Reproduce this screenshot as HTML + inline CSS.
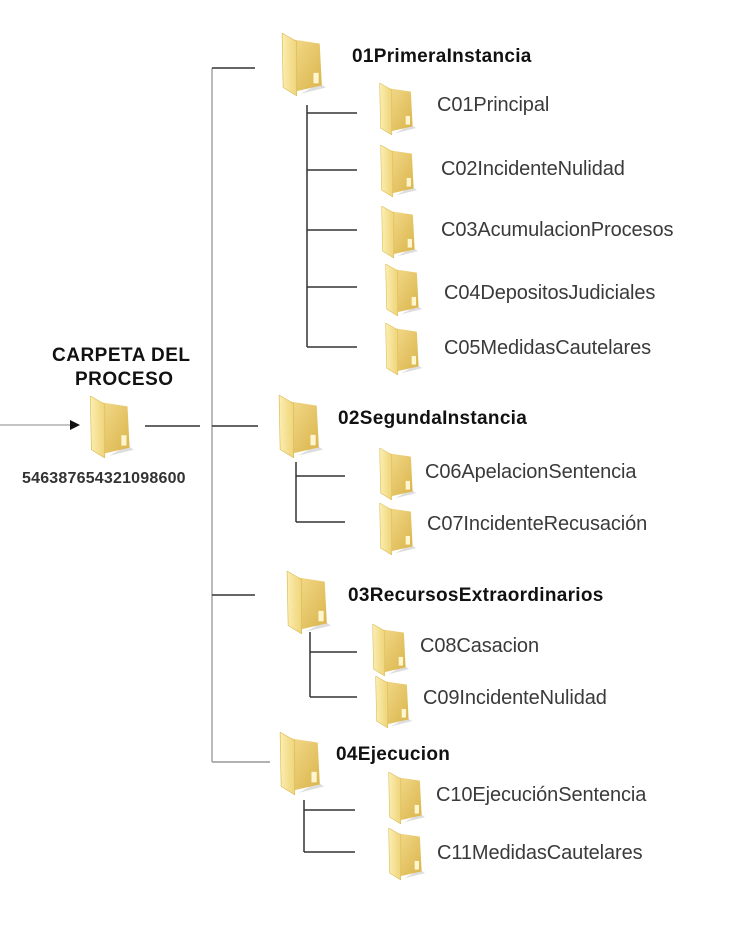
<!DOCTYPE html>
<html><head><meta charset="utf-8"><style>
body{margin:0;background:#fff;}
svg text{font-family:"Liberation Sans",sans-serif;fill:#333;}
.b{font-weight:bold;font-size:19px;letter-spacing:0.3px;fill:#111;}
.n{font-size:20px;letter-spacing:-0.1px;fill:#3a3a3a;}
</style></head><body>
<svg width="740" height="936" viewBox="0 0 740 936" xmlns="http://www.w3.org/2000/svg">
<defs>
<linearGradient id="gb" x1="0" y1="0" x2="1" y2="1"><stop offset="0" stop-color="#f3d98a"/><stop offset="1" stop-color="#d9b44a"/></linearGradient>
<linearGradient id="gf" x1="0" y1="0" x2="1" y2="0"><stop offset="0" stop-color="#fbeeb0"/><stop offset="1" stop-color="#efd47a"/></linearGradient>
<symbol id="f" viewBox="0 0 44 60">
<path d="M38 48 L44 52 L20 58 Z" fill="#ddd"/>
<path d="M12 6 L38 10 L40 50 L14 56 Z" fill="url(#gb)"/>
<rect x="32" y="38" width="5" height="10" fill="#fff6d0"/>
<path d="M2 0 L16 8 L16 60 L3 52 Z" fill="url(#gf)" stroke="#d8b850" stroke-width="0.6"/>
</symbol>
</defs>
<g stroke="#333" stroke-width="1.5" fill="none">
<line x1="212" y1="68" x2="212" y2="762" stroke="#777" stroke-width="1"/>
<line x1="212" y1="68" x2="255" y2="68"/>
<line x1="212" y1="426" x2="258" y2="426"/>
<line x1="212" y1="595" x2="255" y2="595"/>
<line x1="212" y1="762" x2="270" y2="762" stroke="#999"/>
<line x1="145" y1="426" x2="200" y2="426"/>
<line x1="0" y1="425" x2="72" y2="425" stroke="#888" stroke-width="1"/>
<line x1="307" y1="105" x2="307" y2="347"/>
<line x1="307" y1="113" x2="357" y2="113"/><line x1="307" y1="170" x2="357" y2="170"/><line x1="307" y1="230" x2="357" y2="230"/><line x1="307" y1="287" x2="357" y2="287"/><line x1="307" y1="347" x2="357" y2="347"/>
<line x1="296" y1="462" x2="296" y2="522"/>
<line x1="296" y1="476" x2="345" y2="476"/><line x1="296" y1="522" x2="345" y2="522"/>
<line x1="310" y1="632" x2="310" y2="697"/>
<line x1="310" y1="652" x2="357" y2="652"/><line x1="310" y1="697" x2="357" y2="697"/>
<line x1="304" y1="800" x2="304" y2="852"/>
<line x1="304" y1="810" x2="355" y2="810"/><line x1="304" y1="852" x2="355" y2="852"/>
</g>
<polygon points="70,420 80,425 70,430" fill="#111"/>
<use href="#f" x="88" y="396" width="46" height="62"/>
<use href="#f" x="280" y="33" width="46" height="63"/>
<use href="#f" x="277" y="395" width="46" height="63"/>
<use href="#f" x="285" y="571" width="46" height="63"/>
<use href="#f" x="278" y="732" width="46" height="63"/>
<use href="#f" x="375" y="83" width="44" height="52"/>
<use href="#f" x="376" y="145" width="44" height="52"/>
<use href="#f" x="377" y="206" width="44" height="52"/>
<use href="#f" x="381" y="264" width="44" height="52"/>
<use href="#f" x="381" y="323" width="44" height="52"/>
<use href="#f" x="375" y="448" width="44" height="52"/>
<use href="#f" x="375" y="503" width="44" height="52"/>
<use href="#f" x="368" y="624" width="44" height="52"/>
<use href="#f" x="371" y="676" width="44" height="52"/>
<use href="#f" x="384" y="772" width="44" height="52"/>
<use href="#f" x="384" y="828" width="44" height="52"/>
<text class="b" x="52" y="361" style="font-size:19px;letter-spacing:0.5px">CARPETA DEL</text>
<text class="b" x="75" y="385" style="font-size:19px;letter-spacing:0.5px">PROCESO</text>
<text class="b" x="22" y="483" style="font-size:16px;letter-spacing:0.2px;fill:#333">546387654321098600</text>
<text class="b" x="352" y="62">01PrimeraInstancia</text>
<text class="b" x="338" y="424">02SegundaInstancia</text>
<text class="b" x="348" y="601">03RecursosExtraordinarios</text>
<text class="b" x="336" y="760">04Ejecucion</text>
<text class="n" x="437" y="111">C01Principal</text>
<text class="n" x="441" y="175">C02IncidenteNulidad</text>
<text class="n" x="441" y="236">C03AcumulacionProcesos</text>
<text class="n" x="444" y="299">C04DepositosJudiciales</text>
<text class="n" x="444" y="354">C05MedidasCautelares</text>
<text class="n" x="425" y="478">C06ApelacionSentencia</text>
<text class="n" x="427" y="530">C07IncidenteRecusación</text>
<text class="n" x="420" y="652">C08Casacion</text>
<text class="n" x="423" y="704">C09IncidenteNulidad</text>
<text class="n" x="436" y="801">C10EjecuciónSentencia</text>
<text class="n" x="437" y="859">C11MedidasCautelares</text>
</svg>
</body></html>
